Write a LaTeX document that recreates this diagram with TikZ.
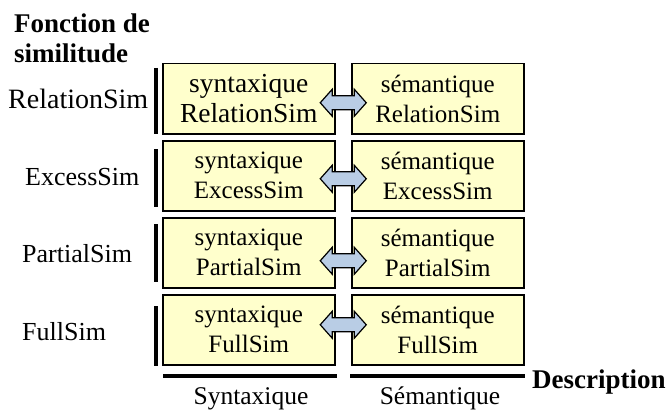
\documentclass[tikz,border=0pt]{standalone}
\usepackage{fontspec}
\setmainfont{Liberation Serif}
\usetikzlibrary{calc}
\definecolor{boxfill}{RGB}{255,255,204}
\definecolor{arrfill}{RGB}{185,205,229}
\begin{document}
\begin{tikzpicture}[x=1pt,y=-1pt,
  cell/.style={draw=black, line width=1.5pt, fill=boxfill, minimum width=172pt,
    minimum height=70pt, inner sep=0pt, align=center,
    font=\fontsize{25}{30}\selectfont, anchor=north west},
  lab/.style={font=\fontsize{26}{28}\selectfont, anchor=base west, inner sep=0pt},
  blab/.style={font=\fontsize{27}{28}\selectfont\bfseries, anchor=base west, inner sep=0pt},
  bar/.style={line width=4pt},
  dblarr/.style={draw=black, line width=1.2pt, fill=arrfill, line join=miter}]
\useasboundingbox (0,0) rectangle (667,412);

% titles
\node[blab] (f1) at (14,33) {Fonction de};
\node[blab] (f2) at (14,63) {similitude};

% boxes
\node[cell, font=\fontsize{27.5}{30}\selectfont] (s1) at (162,63)  {syntaxique\\RelationSim};
\node[cell] (m1) at (351,63)  {sémantique\\RelationSim};
\node[cell] (s2) at (162,140) {syntaxique\\ExcessSim};
\node[cell] (m2) at (351,140) {sémantique\\ExcessSim};
\node[cell] (s3) at (162,217) {syntaxique\\PartialSim};
\node[cell] (m3) at (351,217) {sémantique\\PartialSim};
\node[cell] (s4) at (162,294) {syntaxique\\FullSim};
\node[cell] (m4) at (351,294) {sémantique\\FullSim};

% row labels
\node[lab, font=\fontsize{28}{30}\selectfont] (l1) at (8,108)  {RelationSim};
\node[lab] (l2) at (25,185) {ExcessSim};
\node[lab] (l3) at (22,262) {PartialSim};
\node[lab] (l4) at (22,340) {FullSim};

% vertical bars
\draw[bar] ($(s1.north west)+(-6,5)$) -- ($(s1.south west)+(-6,-1)$);
\draw[bar] ($(s2.north west)+(-6,9)$) -- ($(s2.south west)+(-6,-5)$);
\draw[bar] ($(s3.north west)+(-6,7)$) -- ($(s3.south west)+(-6,-7)$);
\draw[bar] ($(s4.north west)+(-6,12)$) -- ($(s4.south west)+(-6,0)$);

% double arrows
\foreach \i/\dy in {1/4,2/3,3/8,4/-5}{
  \coordinate (c\i) at ($(s\i.east)!.5!(m\i.west)+(0,\dy)$);
  \draw[dblarr] ($(c\i)+(-23,0)$) -- ++(12,-13.5) -- ++(0,6.5) -- ++(22,0)
     -- ++(0,-6.5) -- ++(12,13.5) -- ++(-12,13.5) -- ++(0,-6.5) -- ++(-22,0)
     -- ++(0,6.5) -- cycle;
}

% bottom axis
\coordinate (b1) at (163,376);
\coordinate (b2) at (337,376);
\coordinate (b3) at (350,376);
\coordinate (b4) at (525,376);
\draw[bar] (b1) -- (b2);
\draw[bar] (b3) -- (b4);
\node[font=\fontsize{25.5}{28}\selectfont, anchor=base, inner sep=0pt] (x1) at (251,404) {Syntaxique};
\node[font=\fontsize{25.5}{28}\selectfont, anchor=base, inner sep=0pt] (x2) at (440,404) {Sémantique};
\node[blab] (d) at (532,388) {Description};
\end{tikzpicture}
\end{document}
